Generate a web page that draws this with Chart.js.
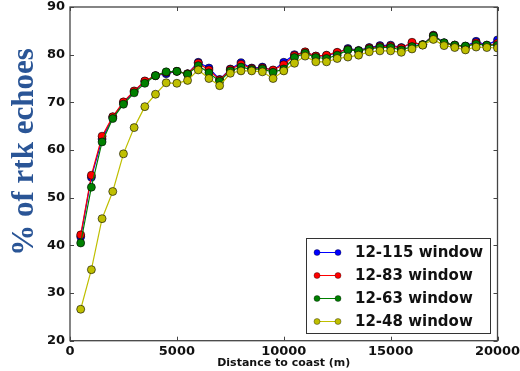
<!DOCTYPE html>
<html>
<head>
<meta charset="utf-8">
<title>RTK echoes vs distance to coast</title>
<script src="https://cdn.jsdelivr.net/npm/chart.js@4.4.1/dist/chart.umd.min.js"></script>
<style>
    html, body {
        margin: 0;
        padding: 0;
        background: #fff;
    }
    #echoChart {
        display: block;
    }
</style>
</head>
<body>
<canvas id="echoChart" width="520" height="371"></canvas>
<script>
// ===========================
// DATA
// ===========================

// Distance to coast (m), one sample every 500 m
const distances = [
    500, 1000, 1500, 2000, 2500, 3000, 3500, 4000, 4500, 5000,
    5500, 6000, 6500, 7000, 7500, 8000, 8500, 9000, 9500, 10000,
    10500, 11000, 11500, 12000, 12500, 13000, 13500, 14000, 14500, 15000,
    15500, 16000, 16500, 17000, 17500, 18000, 18500, 19000, 19500, 20000
];

// % of rtk echoes per window
const window115 = [
    41.8, 54.3, 62.3, 66.9, 69.9, 72.3, 74.4, 75.6, 76.0, 76.5,
    76.0, 78.4, 77.2, 74.8, 77.0, 78.3, 77.2, 77.4, 76.7, 78.4,
    80.0, 80.5, 79.7, 79.8, 80.4, 81.3, 80.9, 81.5, 81.9, 82.0,
    81.5, 82.4, 82.1, 84.1, 82.5, 82.0, 81.8, 82.8, 82.0, 83.1
];
const window83 = [
    42.2, 54.7, 62.9, 67.0, 70.1, 72.4, 74.5, 75.6, 76.3, 76.5,
    76.0, 78.2, 76.8, 74.7, 76.9, 78.0, 77.1, 77.2, 76.8, 77.9,
    79.8, 80.6, 79.7, 79.9, 80.5, 81.1, 80.8, 81.4, 81.7, 81.8,
    81.4, 82.6, 82.1, 84.0, 82.4, 82.0, 81.7, 82.5, 81.9, 82.4
];
const window63 = [
    40.5, 52.2, 61.7, 66.6, 69.6, 72.0, 74.0, 75.6, 76.4, 76.5,
    75.9, 77.7, 76.2, 74.4, 76.6, 77.4, 76.9, 77.0, 76.3, 77.0,
    79.4, 80.3, 79.4, 79.2, 79.9, 81.0, 80.8, 81.2, 81.5, 81.5,
    81.0, 81.7, 82.1, 83.9, 82.5, 82.0, 81.8, 82.2, 82.0, 82.0
];
const window48 = [
    26.6, 34.9, 45.6, 51.3, 59.2, 64.7, 69.1, 71.7, 74.1, 74.0,
    74.6, 76.8, 75.0, 73.5, 76.1, 76.6, 76.6, 76.4, 75.0, 76.6,
    78.2, 79.7, 78.5, 78.5, 79.2, 79.5, 79.9, 80.6, 80.8, 80.8,
    80.5, 81.2, 82.0, 83.2, 81.9, 81.5, 81.0, 81.6, 81.5, 81.4
];

const seriesLabels = ['12-115 window', '12-83 window', '12-63 window', '12-48 window'];
const seriesColors = ['#0000ff', '#ff0000', '#008000', '#bfbf00'];
const seriesValues = [window115, window83, window63, window48];

const xTicks = [0, 5000, 10000, 15000, 20000];
const yTicks = [20, 30, 40, 50, 60, 70, 80, 90];

const TICK_FONT = { family: 'DejaVu Sans', size: 13, weight: 'bold' };

// ===========================
// PLUGINS
// ===========================

// Axes frame with inward tick marks on all four sides
const framePlugin = {
    id: 'frame',
    afterDatasetsDraw(chart) {
        const { ctx, chartArea: a, scales } = chart;
        const len = 4;
        ctx.save();
        ctx.strokeStyle = '#444';
        ctx.lineWidth = 1;
        ctx.beginPath();
        xTicks.forEach(v => {
            const x = Math.round(scales.x.getPixelForValue(v)) + 0.5;
            ctx.moveTo(x, a.bottom);
            ctx.lineTo(x, a.bottom - len);
            ctx.moveTo(x, a.top);
            ctx.lineTo(x, a.top + len);
        });
        yTicks.forEach(v => {
            const y = Math.round(scales.y.getPixelForValue(v)) + 0.5;
            ctx.moveTo(a.left, y);
            ctx.lineTo(a.left + len, y);
            ctx.moveTo(a.right, y);
            ctx.lineTo(a.right - len, y);
        });
        ctx.stroke();
        ctx.lineWidth = 1.3;
        ctx.strokeRect(a.left, a.top, a.right - a.left, a.bottom - a.top);
        ctx.restore();
    }
};

// Legend box in the lower right corner, plus the big y title
const overlayPlugin = {
    id: 'overlay',
    afterDraw(chart) {
        const { ctx } = chart;
        ctx.save();

        // legend
        const box = { x: 306, y: 238, w: 184, h: 95 };
        ctx.fillStyle = '#fff';
        ctx.fillRect(box.x, box.y, box.w, box.h);
        ctx.strokeStyle = '#333';
        ctx.lineWidth = 1;
        ctx.strokeRect(box.x + 0.5, box.y + 0.5, box.w, box.h);

        ctx.font = 'bold 15px "DejaVu Sans"';
        ctx.textBaseline = 'middle';
        ctx.textAlign = 'left';
        seriesLabels.forEach((label, i) => {
            const y = 252.5 + i * 23;
            ctx.strokeStyle = seriesColors[i];
            ctx.lineWidth = 1;
            ctx.beginPath();
            ctx.moveTo(317, y);
            ctx.lineTo(338, y);
            ctx.stroke();
            [317, 338].forEach(cx => {
                ctx.beginPath();
                ctx.arc(cx, y, 3, 0, Math.PI * 2);
                ctx.fillStyle = seriesColors[i];
                ctx.fill();
                ctx.strokeStyle = 'rgba(0,0,0,0.6)';
                ctx.lineWidth = 0.6;
                ctx.stroke();
            });
            ctx.fillStyle = '#111';
            ctx.fillText(label, 355, y + 1);
        });

        // y axis title
        ctx.translate(33, 152);
        ctx.rotate(-Math.PI / 2);
        ctx.font = 'bold 31px "Liberation Serif"';
        ctx.textAlign = 'center';
        ctx.textBaseline = 'alphabetic';
        ctx.fillStyle = '#2a5596';
        ctx.fillText('% of rtk echoes', 0, 0);

        ctx.restore();
    }
};

// ===========================
// CHART
// ===========================

function initEchoChart() {
    const ctx = document.getElementById('echoChart');
    if (!ctx) return;

    const datasets = seriesValues.map((values, i) => ({
        label: seriesLabels[i],
        data: values.map((v, j) => ({ x: distances[j], y: v })),
        borderColor: seriesColors[i],
        backgroundColor: seriesColors[i],
        borderWidth: 1.2,
        pointRadius: 4,
        pointBackgroundColor: seriesColors[i],
        pointBorderColor: 'rgba(0,0,0,0.75)',
        pointBorderWidth: 0.8,
        tension: 0,
        fill: false,
        // later windows drawn on top
        order: seriesValues.length - i
    }));

    new Chart(ctx, {
        type: 'line',
        data: { datasets: datasets },
        options: {
            responsive: false,
            animation: false,
            layout: {
                padding: { top: 7, right: 22.5, left: 0, bottom: 0 }
            },
            plugins: {
                legend: { display: false },
                tooltip: { enabled: false }
            },
            scales: {
                x: {
                    type: 'linear',
                    min: 0,
                    max: 20000,
                    grid: { display: false, drawTicks: false },
                    border: { display: false },
                    ticks: {
                        stepSize: 5000,
                        padding: 3,
                        maxRotation: 0,
                        color: '#111',
                        font: TICK_FONT,
                        callback: v => String(v)
                    },
                    title: {
                        display: true,
                        text: 'Distance to coast (m)',
                        color: '#111',
                        font: { family: 'DejaVu Sans', size: 11, weight: 'bold' },
                        padding: { top: 0, bottom: 1 }
                    },
                    afterFit: scale => {
                        scale.height = 30.3;
                        scale.paddingLeft = 0;
                        scale.paddingRight = 0;
                    }
                },
                y: {
                    min: 20,
                    max: 90,
                    grid: { display: false, drawTicks: false },
                    border: { display: false },
                    ticks: {
                        stepSize: 10,
                        padding: 5,
                        color: '#111',
                        font: TICK_FONT
                    },
                    afterFit: scale => {
                        scale.width = 70;
                        scale.paddingTop = 0;
                        scale.paddingBottom = 0;
                    }
                }
            }
        },
        plugins: [framePlugin, overlayPlugin]
    });
}

initEchoChart();
</script>
</body>
</html>
